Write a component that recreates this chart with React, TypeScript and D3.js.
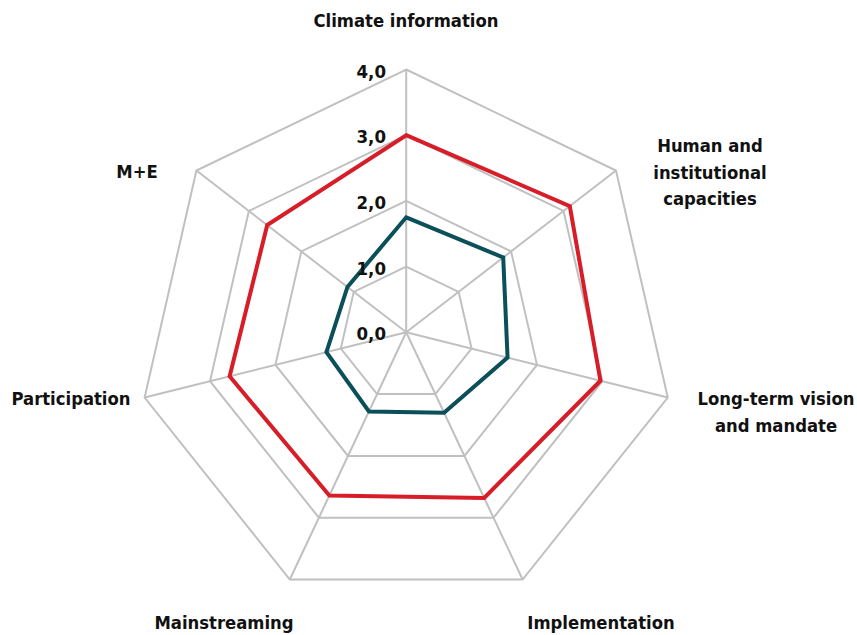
import * as d3 from 'd3';

const axes = [
  ['Climate information'],
  ['Human and', 'institutional', 'capacities'],
  ['Long-term vision', 'and mandate'],
  ['Implementation'],
  ['Mainstreaming'],
  ['Participation'],
  ['M+E'],
];

const seriesRed = [3.0, 3.12, 2.97, 2.68, 2.64, 2.7, 2.65];
const seriesTeal = [1.75, 1.85, 1.55, 1.3, 1.28, 1.22, 1.12];
const gridLevels = [1, 2, 3, 4];
const tickLevels = [0, 1, 2, 3, 4];

const WIDTH = 857;
const HEIGHT = 635;
const cx = 406.2;
const cy = 332.3;

const FONT = "'Liberation Sans Narrow', 'DejaVu Sans Condensed', sans-serif";

// label anchor points (centre x, first baseline y)
const labelPos = [
  { x: 406, y: 27 },
  { x: 710, y: 152 },
  { x: 776, y: 405 },
  { x: 601, y: 629 },
  { x: 224, y: 629 },
  { x: 71, y: 405 },
  { x: 137, y: 178 },
];

export default function App() {
  const rScale = d3.scaleLinear().domain([0, 4]).range([0, 268.3]);
  // the source picture sags slightly downward with radius
  const sag = d3.scaleLinear().domain([0, 4]).range([0, 5.5]);
  const angle = d3.scaleLinear().domain([0, axes.length]).range([0, 2 * Math.PI]);

  const pt = (i: number, v: number): [number, number] => {
    const a = angle(i);
    return [cx + rScale(v) * Math.sin(a), cy - rScale(v) * Math.cos(a) + sag(v)];
  };

  const ring = (vals: number[]) =>
    d3.line<number>()
      .x((_, i) => pt(i, vals[i])[0])
      .y((_, i) => pt(i, vals[i])[1])
      .curve(d3.curveLinearClosed)(vals) || '';

  return (
    <svg
      width={WIDTH}
      height={HEIGHT}
      style={{ position: 'absolute', left: 0, top: 0, background: '#fff' }}
    >
      <g fill="none" stroke="#c0c0c0" strokeWidth={2}>
        {gridLevels.map(l => (
          <path key={l} d={ring(axes.map(() => l))} />
        ))}
        {axes.map((_, i) => {
          const [x, y] = pt(i, 4);
          return <line key={i} x1={cx} y1={cy} x2={x} y2={y} />;
        })}
      </g>

      <path d={ring(seriesTeal)} fill="none" stroke="#0b4f5a" strokeWidth={4} strokeLinejoin="miter" />
      <path d={ring(seriesRed)} fill="none" stroke="#d71e28" strokeWidth={4} strokeLinejoin="miter" />

      <g fontFamily={FONT} fontSize={18.5} fontWeight="bold" fill="#111" textAnchor="end">
        {tickLevels.map(t => (
          <text key={t} x={386} y={pt(0, t)[1] + 8}>
            {d3.format('.1f')(t).replace('.', ',')}
          </text>
        ))}
      </g>

      <g fontFamily={FONT} fontSize={18.3} fontWeight="bold" fill="#111" textAnchor="middle">
        {axes.map((lines, i) => (
          <text key={i} x={labelPos[i].x} y={labelPos[i].y}>
            {lines.map((s, j) => (
              <tspan key={j} x={labelPos[i].x} dy={j === 0 ? 0 : 26.5}>{s}</tspan>
            ))}
          </text>
        ))}
      </g>
    </svg>
  );
}
